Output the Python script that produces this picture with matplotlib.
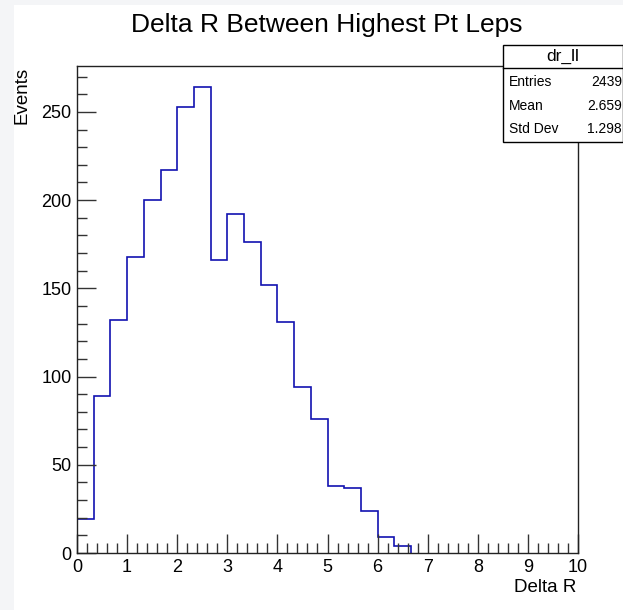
import numpy as np
import matplotlib.pyplot as plt
from matplotlib.patches import Rectangle
from matplotlib.ticker import MultipleLocator

# histogram contents, 30 bins of width 1/3 between 0 and 10
bin_edges = np.linspace(0, 10, 31)
counts = [19, 89, 132, 168, 200, 217, 253, 264, 166, 192,
          176, 152, 131, 94, 76, 38, 37, 24, 9, 4,
          0, 0, 0, 0, 0, 0, 0, 0, 0, 0]

stat_names = ["Entries", "Mean", "Std Dev"]
stat_values = ["2439", "2.659", "1.298"]
hist_name = "dr_ll"

plt.rcParams['font.family'] = ['Liberation Sans', 'DejaVu Sans']

W, H = 623, 610
fig = plt.figure(figsize=(W / 100, H / 100), dpi=100, facecolor="#f4f5f7")

# white canvas
fig.patches.append(Rectangle((14 / W, 0), 1 - 14 / W, 1 - 5 / H,
                             transform=fig.transFigure, facecolor="white",
                             edgecolor="none", zorder=-10))

ax = fig.add_axes([77 / W, (H - 553) / H, 501 / W, 487 / H])
ax.set_facecolor("none")

# empty trailing bins sit on the axis line, only draw up to the last filled one
n_filled = len(np.trim_zeros(counts, "b"))
ax.stairs(counts[:n_filled], bin_edges[:n_filled + 1], baseline=0,
          color="#1212b0", lw=1.2)

ax.set_xlim(0, 10)
ax.set_ylim(0, 276)
ax.xaxis.set_major_locator(MultipleLocator(1))
ax.xaxis.set_minor_locator(MultipleLocator(0.2))
ax.yaxis.set_major_locator(MultipleLocator(50))
ax.yaxis.set_minor_locator(MultipleLocator(10))
ax.tick_params(which="both", direction="in", top=False, right=False,
               labelsize=13, width=1, color="#333333")
ax.tick_params(which="major", length=14, pad=4)
ax.tick_params(which="minor", length=7)
for s in ax.spines.values():
    s.set_linewidth(1)
    s.set_color("#222222")
    s.set_zorder(3)

fig.text(327 / W, 1 - 25 / H, "Delta R Between Highest Pt Leps",
         ha="center", va="center", fontsize=19)
fig.text(22 / W, 1 - 67 / H, "Events", rotation=90, ha="center", va="top",
         fontsize=13.5)
fig.text(576 / W, 1 - 588 / H, "Delta R", ha="right", va="center",
         fontsize=13.5)

# stats box
bx0, bx1, by0, by1 = 503, 623, 45, 142
fig.patches.append(Rectangle((bx0 / W, 1 - by1 / H), (bx1 - bx0) / W,
                             (by1 - by0) / H, transform=fig.transFigure,
                             facecolor="white", edgecolor="black", lw=1,
                             zorder=5))
fig.add_artist(plt.Line2D([bx0 / W, bx1 / W], [1 - 68 / H, 1 - 68 / H],
                          transform=fig.transFigure, color="black", lw=1,
                          zorder=6))
fig.text(563 / W, 1 - 56 / H, hist_name, ha="center", va="center",
         fontsize=12.5, zorder=7)
for i, (name, val) in enumerate(zip(stat_names, stat_values)):
    yy = 1 - (82 + 23.5 * i) / H
    fig.text(509 / W, yy, name, ha="left", va="center", fontsize=10, zorder=7)
    fig.text(622 / W, yy, val, ha="right", va="center", fontsize=10, zorder=7)

fig.savefig("out.png", dpi=100, facecolor=fig.get_facecolor())
